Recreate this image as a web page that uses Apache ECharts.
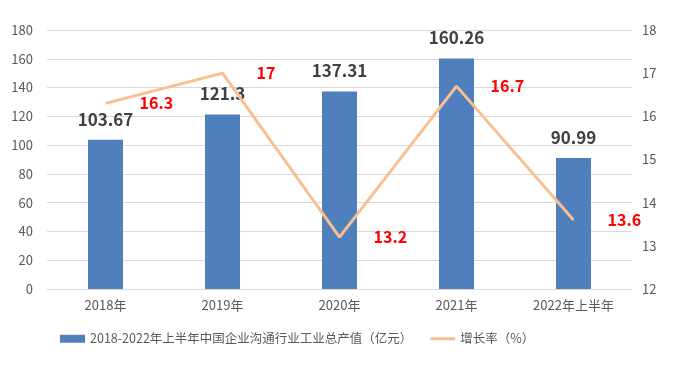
<!DOCTYPE html>
<html><head><meta charset="utf-8">
<script src="https://cdn.jsdelivr.net/npm/echarts@6/dist/echarts.min.js"></script>
<style>html,body{margin:0;padding:0;background:#fff}#c{width:688px;height:382px}</style>
</head><body><div id="c"></div>
<script>
const categories = ['2018年','2019年','2020年','2021年','2022年上半年'];
const outputValues = [103.67, 121.3, 137.31, 160.26, 90.99];
const growthRates = [16.3, 17, 13.2, 16.7, 13.6];
const barName = '2018-2022年上半年中国企业沟通行业工业总产值（亿元）';
const lineName = '增长率（%）';
const font = '"Microsoft YaHei","Noto Sans CJK SC",sans-serif';
const chart = echarts.init(document.getElementById('c'));
chart.setOption({
  animation: false,
  textStyle: {fontFamily: font},
  grid: {left: 47, right: 56, top: 30, bottom: 93},
  legend: {
    bottom: 32, left: 55, itemWidth: 25, itemHeight: 8, itemGap: 18, symbolKeepAspect: true,
    textStyle: {color: '#595959', fontSize: 12.5, fontFamily: font},
    data: [{name: barName, icon: 'rect'},
           {name: lineName, icon: 'path://M0,0L25,0L25,3L0,3Z', itemStyle: {color: '#f8c08f'}}]
  },
  xAxis: {
    type: 'category', data: categories,
    axisTick: {show: false},
    axisLine: {lineStyle: {color: '#d9d9d9'}},
    axisLabel: {color: '#595959', fontSize: 13, margin: 10}
  },
  yAxis: [
    {type: 'value', min: 0, max: 180, interval: 20,
     axisLine: {show: false}, axisTick: {show: false},
     splitLine: {lineStyle: {color: '#d9d9d9'}},
     axisLabel: {color: '#595959', fontSize: 13, margin: 14}},
    {type: 'value', min: 12, max: 18, interval: 1,
     axisLine: {show: false}, axisTick: {show: false},
     splitLine: {show: false},
     axisLabel: {color: '#595959', fontSize: 13, margin: 10}}
  ],
  series: [
    {name: barName, type: 'bar', data: outputValues, barWidth: 35,
     itemStyle: {color: '#4f7fbd'},
     label: {show: true, position: 'top', distance: 12, color: '#404040', fontSize: 17, fontWeight: 'bold'}},
    {name: lineName, type: 'line', yAxisIndex: 1, data: growthRates,
     symbol: 'circle', symbolSize: 0.1, showSymbol: true,
     lineStyle: {color: '#f8c08f', width: 3}, itemStyle: {color: '#f8c08f'},
     label: {show: true, position: 'right', distance: 34, color: '#ff0000', fontSize: 16, fontWeight: 'bold'}}
  ]
});
</script></body></html>
